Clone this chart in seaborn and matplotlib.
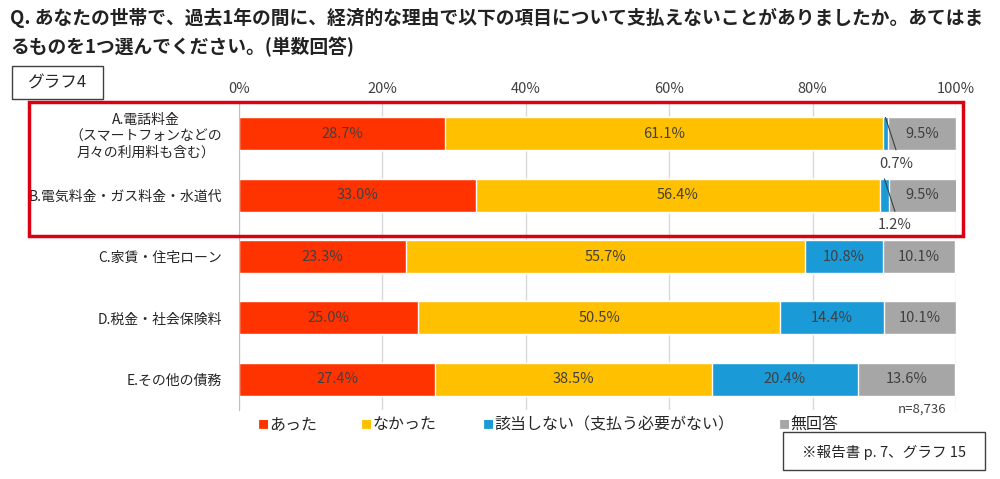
import numpy as np
import pandas as pd
import matplotlib
matplotlib.use("Agg")
import matplotlib.pyplot as plt
from matplotlib.patches import Rectangle
import seaborn as sns

# data (%)
categories = ["A.電話料金\n（スマートフォンなどの\n月々の利用料も含む）",
              "B.電気料金・ガス料金・水道代",
              "C.家賃・住宅ローン",
              "D.税金・社会保険料",
              "E.その他の債務"]
series_names = ["あった", "なかった", "該当しない（支払う必要がない）", "無回答"]
atta = [28.7, 33.0, 23.3, 25.0, 27.4]
nakatta = [61.1, 56.4, 55.7, 50.5, 38.5]
gaitou = [0.7, 1.2, 10.8, 14.4, 20.4]
mukaitou = [9.5, 9.5, 10.1, 10.1, 13.6]
xticks = [0, 20, 40, 60, 80, 100]
colors = ["#FF3300", "#FFC000", "#1A9AD6", "#A6A6A6"]

sns.set_style("white")
plt.rcParams['font.family'] = ['Noto Sans CJK JP', 'DejaVu Sans']

vals = np.array([atta, nakatta, gaitou, mukaitou])
cum = vals.cumsum(axis=0)
df = pd.DataFrame({"cat": categories})

fig = plt.figure(figsize=(10, 4.79), dpi=100)
ax = fig.add_axes([0.239, 0.144, 0.717, 0.641])

# stacked bars: draw cumulative totals from the longest down
for i in range(3, -1, -1):
    df["v"] = cum[i]
    sns.barplot(data=df, x="v", y="cat", orient="h", color=colors[i],
                saturation=1, width=0.54, ax=ax, zorder=2)

ax.set_xlim(0, 100)
ax.set_ylim(4.5, -0.5)
ax.set_xticks(xticks)
ax.set_xticklabels([f"{t}%" for t in xticks], fontsize=10.5, color="#404040")
ax.xaxis.tick_top()
ax.tick_params(axis="x", length=0, pad=5)
ax.tick_params(axis="y", length=0, pad=12, labelsize=10, labelcolor="#262626")
for lbl in ax.get_yticklabels():
    lbl.set_multialignment("center")
ax.set_xlabel("")
ax.set_ylabel("")
ax.grid(axis="x", color="#D9D9D9", linewidth=1, zorder=0)
for s in ["top", "right", "bottom"]:
    ax.spines[s].set_visible(False)
ax.spines["left"].set_color("#BFBFBF")
ax.spines["left"].set_zorder(3)

# value labels
for j in range(len(categories)):
    for i in range(4):
        v = vals[i, j]
        left = cum[i, j] - v
        mid = left + v / 2
        if v < 5:
            # leader line across the thin segment, label below the bar
            ax.plot([mid, mid + 1.5], [j - 0.27, j + 0.27], color="#404040",
                    lw=0.8, zorder=4, solid_capstyle="butt")
            ax.text(mid + 1.5, j + 0.49, f"{v:.1f}%", ha="center", va="center",
                    fontsize=10.5, color="#404040", zorder=4)
        else:
            ax.text(mid, j, f"{v:.1f}%", ha="center", va="center",
                    fontsize=10.5, color="#404040", zorder=4)

# title
fig.text(0.01, 0.962, "Q. あなたの世帯で、過去1年の間に、経済的な理由で以下の項目について支払えないことがありましたか。あてはま",
         fontsize=13.5, fontweight="bold", color="#222222", va="center")
fig.text(0.01, 0.903, "るものを1つ選んでください。(単数回答)",
         fontsize=13.5, fontweight="bold", color="#222222", va="center")

# "グラフ4" box
fig.patches.append(Rectangle((0.012, 1 - 99 / 479), 0.091, 33 / 479,
                             transform=fig.transFigure, fill=False,
                             edgecolor="#404040", linewidth=1))
fig.text(0.057, 1 - 83 / 479, "グラフ4", fontsize=12, ha="center", va="center",
         color="#262626")

# red highlight frame around A and B
fig.patches.append(Rectangle((0.029, 1 - 236 / 479), 0.934, 134 / 479,
                             transform=fig.transFigure, fill=False,
                             edgecolor="#D90012", linewidth=2.5, zorder=5))

# legend
leg_x = [0.258, 0.361, 0.483, 0.779]
for x, name, c in zip(leg_x, series_names, colors):
    fig.text(x, 1 - 425 / 479, "■", color=c, fontsize=8, ha="left", va="center")
    fig.text(x + 0.011, 1 - 425 / 479, name, color="#262626", fontsize=11.5,
             ha="left", va="center")

fig.text(0.946, 1 - 409 / 479, "n=8,736", fontsize=9.5, ha="right", va="center",
         color="#404040")

# source note box
fig.patches.append(Rectangle((0.783, 1 - 470 / 479), 0.202, 38 / 479,
                             transform=fig.transFigure, fill=False,
                             edgecolor="#404040", linewidth=1))
fig.text(0.884, 1 - 452 / 479, "※報告書 p. 7、グラフ 15", fontsize=10.5,
         ha="center", va="center", color="#262626")

fig.savefig("out.png", dpi=100)
